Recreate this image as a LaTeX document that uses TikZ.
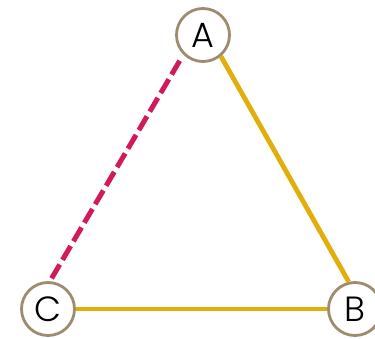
\documentclass[tikz,border=0pt]{standalone}
\usepackage{fontspec}
\setmainfont{Poppins Light}
\definecolor{gold}{HTML}{E1AE0B}
\definecolor{crimson}{HTML}{D1195B}
\definecolor{ring}{HTML}{9D8C6F}
\begin{document}
\begin{tikzpicture}[x=1pt,y=1pt,
  vertex/.style={circle,draw=ring,line width=2.8pt,fill=white,minimum size=53pt,inner sep=0pt,font=\fontsize{35}{35}\selectfont},
  goldline/.style={draw=gold,line width=4.8pt},
  redline/.style={draw=crimson,line width=5pt,dash pattern=on 16pt off 5.5pt}]
\useasboundingbox (0,0) rectangle (375,338);
\node[vertex] (A) at (203,303) {A};
\node[vertex] (B) at (355,29) {B};
\node[vertex] (C) at (48,29) {C};
\draw[goldline] (A.-50) -- (B.103);
\draw[goldline] (C.east) -- (B.west);
\draw[redline,shorten <=7pt] (A.225) -- (C.86);
\end{tikzpicture}
\end{document}
